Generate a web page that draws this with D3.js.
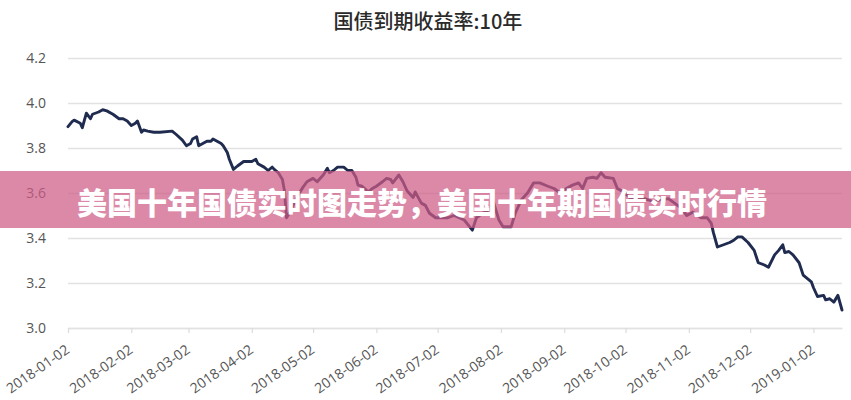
<!DOCTYPE html>
<html>
<head>
<meta charset="utf-8">
<script src="https://cdn.jsdelivr.net/npm/d3@7"></script>
<style>
  html, body { margin: 0; padding: 0; background: #fff; }
  svg { display: block; }
</style>
</head>
<body>
<svg id="chart" width="851" height="400"></svg>
<script>
const title = "国债到期收益率:10年";
const bannerText = "美国十年国债实时图走势，美国十年期国债实时行情";

const dates = [
  "2018-01-02","2018-01-04","2018-01-05","2018-01-08","2018-01-09","2018-01-11","2018-01-13","2018-01-14",
  "2018-01-17","2018-01-19","2018-01-21","2018-01-24","2018-01-27","2018-01-29","2018-01-31",
  "2018-02-02","2018-02-04","2018-02-05","2018-02-07","2018-02-08","2018-02-10","2018-02-13","2018-02-16",
  "2018-02-22","2018-02-24","2018-02-27","2018-03-01","2018-03-03","2018-03-04","2018-03-06","2018-03-07",
  "2018-03-09","2018-03-11","2018-03-13","2018-03-14","2018-03-16","2018-03-18","2018-03-19","2018-03-21",
  "2018-03-22","2018-03-24","2018-03-26","2018-03-29","2018-03-31",
  "2018-04-02","2018-04-04","2018-04-05","2018-04-08","2018-04-10","2018-04-12","2018-04-13","2018-04-15",
  "2018-04-17","2018-04-18","2018-04-19","2018-04-21","2018-04-24","2018-04-27","2018-04-29",
  "2018-05-02","2018-05-04","2018-05-07","2018-05-09","2018-05-10","2018-05-12","2018-05-14","2018-05-17",
  "2018-05-19","2018-05-21","2018-05-23","2018-05-24","2018-05-26","2018-05-29","2018-05-31",
  "2018-06-02","2018-06-05","2018-06-07","2018-06-09","2018-06-10","2018-06-13","2018-06-15","2018-06-17",
  "2018-06-20","2018-06-21","2018-06-24","2018-06-26","2018-06-28",
  "2018-07-01","2018-07-04","2018-07-07","2018-07-10","2018-07-15","2018-07-19","2018-07-21","2018-07-24",
  "2018-07-28","2018-07-29",
  "2018-08-01","2018-08-03","2018-08-07","2018-08-09","2018-08-12","2018-08-15","2018-08-18","2018-08-21",
  "2018-08-25","2018-08-28","2018-08-31",
  "2018-09-03","2018-09-06","2018-09-09","2018-09-11","2018-09-13","2018-09-16","2018-09-18","2018-09-20",
  "2018-09-22","2018-09-26","2018-09-28",
  "2018-10-01","2018-10-04","2018-10-07","2018-10-09","2018-10-13","2018-10-16","2018-10-19","2018-10-23",
  "2018-10-26","2018-10-29",
  "2018-11-01","2018-11-04","2018-11-08","2018-11-11","2018-11-13","2018-11-14","2018-11-16","2018-11-19",
  "2018-11-22","2018-11-24","2018-11-26","2018-11-28",
  "2018-12-01","2018-12-04","2018-12-06","2018-12-09","2018-12-11","2018-12-14","2018-12-16","2018-12-18",
  "2018-12-19","2018-12-21","2018-12-23","2018-12-26","2018-12-28",
  "2019-01-01","2019-01-02","2019-01-04","2019-01-07","2019-01-08","2019-01-10","2019-01-12","2019-01-14",
  "2019-01-16"
];
const yields = [
  3.895,3.917,3.924,3.91,3.89,3.955,3.93,3.95,
  3.96,3.97,3.965,3.95,3.93,3.93,3.92,
  3.90,3.91,3.92,3.87,3.88,3.875,3.87,3.87,
  3.875,3.86,3.835,3.81,3.82,3.84,3.85,3.81,
  3.82,3.83,3.83,3.84,3.83,3.82,3.81,3.78,
  3.75,3.705,3.72,3.74,3.74,
  3.74,3.75,3.73,3.715,3.70,3.715,3.705,3.69,
  3.66,3.61,3.49,3.52,3.58,3.625,3.65,
  3.665,3.65,3.68,3.71,3.69,3.70,3.715,3.715,
  3.70,3.70,3.67,3.635,3.63,3.605,3.62,
  3.63,3.65,3.665,3.66,3.645,3.68,3.65,3.61,
  3.58,3.605,3.555,3.545,3.51,
  3.49,3.49,3.49,3.50,3.48,3.435,3.49,3.51,
  3.53,3.57,
  3.48,3.45,3.45,3.51,3.57,3.60,3.645,3.645,
  3.63,3.62,3.60,
  3.62,3.635,3.645,3.62,3.665,3.67,3.665,3.69,
  3.67,3.665,3.62,
  3.605,3.58,3.58,3.58,3.57,3.56,3.57,3.575,
  3.555,3.535,
  3.50,3.515,3.49,3.49,3.465,3.425,3.36,3.37,
  3.38,3.39,3.405,3.405,
  3.38,3.345,3.29,3.28,3.27,3.325,3.345,3.37,
  3.335,3.34,3.325,3.29,3.235,
  3.205,3.18,3.14,3.145,3.125,3.13,3.115,3.145,
  3.08
];
const xTickLabels = [
  "2018-01-02","2018-02-02","2018-03-02","2018-04-02","2018-05-02","2018-06-02","2018-07-02",
  "2018-08-02","2018-09-02","2018-10-02","2018-11-02","2018-12-02","2019-01-02"
];
const yTicks = [3.0, 3.2, 3.4, 3.6, 3.8, 4.0, 4.2];

const parse = d3.timeParse("%Y-%m-%d");
const fmt = d3.timeFormat("%Y-%m-%d");
const data = dates.map((d, i) => ({ date: parse(d), value: yields[i] }));

const svg = d3.select("#chart");
const W = 851;
const mLeft = 68, mRight = 842, mTop = 58, mBottom = 328;

const x = d3.scaleTime()
  .domain([parse(dates[0]), parse(dates[dates.length - 1])])
  .range([mLeft, mRight]);
const y = d3.scaleLinear().domain([3.0, 4.2]).range([mBottom, mTop]);

// title
svg.append("text")
  .attr("x", 428).attr("y", 29)
  .attr("text-anchor", "middle")
  .attr("font-family", "'Noto Sans CJK SC', sans-serif")
  .attr("font-size", 20)
  .attr("font-weight", 500)
  .attr("fill", "#2a2a2a")
  .text(title);

// y axis with gridlines
const yAxis = svg.append("g")
  .attr("transform", `translate(${mLeft},0)`)
  .call(d3.axisLeft(y).tickValues(yTicks).tickFormat(d3.format(".1f"))
    .tickSize(-(mRight - mLeft)).tickPadding(22));
yAxis.select(".domain").remove();
yAxis.selectAll(".tick line").attr("stroke", "#e2e2e2").attr("stroke-width", 1.6);
yAxis.selectAll(".tick text")
  .attr("font-family", "'Open Sans', sans-serif")
  .attr("font-size", 14)
  .attr("fill", "#555");

// x axis
const xAxis = svg.append("g")
  .attr("transform", `translate(0,${mBottom})`)
  .call(d3.axisBottom(x).tickValues(xTickLabels.map(parse)).tickFormat(fmt)
    .tickSize(5).tickSizeOuter(0));
xAxis.select(".domain").attr("stroke", "#e2e2e2").attr("stroke-width", 1.6);
xAxis.selectAll(".tick line").attr("stroke", "#dcdcdc").attr("stroke-width", 1.2);
xAxis.selectAll(".tick text")
  .attr("x", 0).attr("y", 0).attr("dy", 0)
  .attr("transform", "translate(2,24) rotate(-35)")
  .attr("text-anchor", "end")
  .attr("font-family", "'Open Sans', sans-serif")
  .attr("font-size", 14)
  .attr("fill", "#555");

// line
const line = d3.line().x(d => x(d.date)).y(d => y(d.value));
svg.append("path")
  .datum(data)
  .attr("d", line)
  .attr("fill", "none")
  .attr("stroke", "#1f2b4f")
  .attr("stroke-width", 2.9)
  .attr("stroke-linejoin", "round")
  .attr("stroke-linecap", "round");

// banner overlay
svg.append("rect")
  .attr("x", 0).attr("y", 171).attr("width", W).attr("height", 57)
  .attr("fill", "rgb(206,92,134)")
  .attr("fill-opacity", 0.72);
svg.append("text")
  .attr("x", 77).attr("y", 201)
  .attr("dominant-baseline", "central")
  .attr("font-family", "'Noto Sans CJK SC', sans-serif")
  .attr("font-weight", 900)
  .attr("font-size", 30)
  .attr("fill", "#fff")
  .text(bannerText);
</script>
</body>
</html>
